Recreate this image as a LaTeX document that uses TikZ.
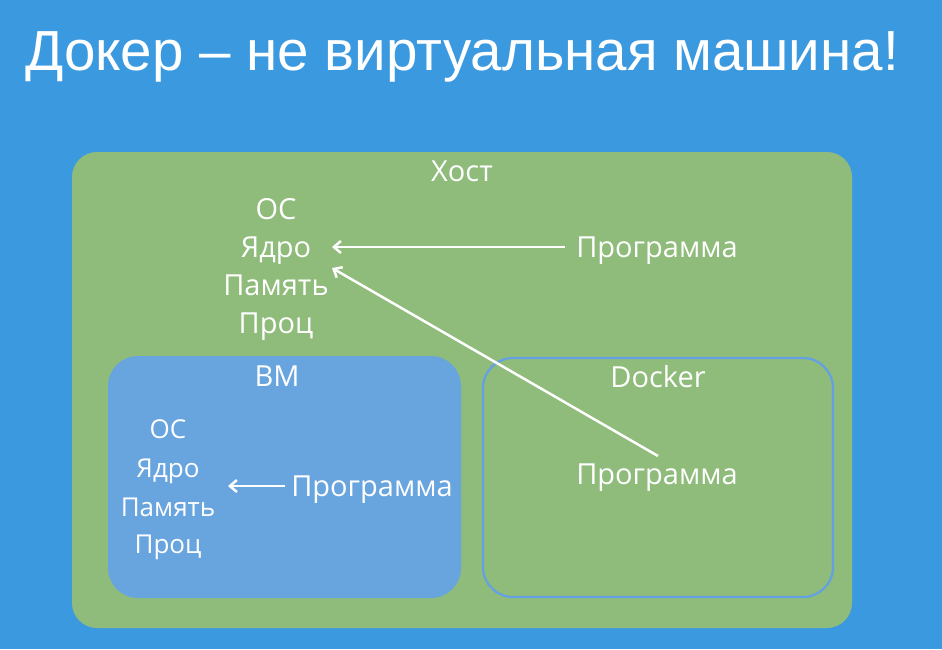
\documentclass[tikz,border=0pt]{standalone}
\usepackage{fontspec}
\setmainfont{Open Sans}
\newfontfamily\titlefont{Liberation Sans}
\usetikzlibrary{arrows.meta}
\definecolor{bgblue}{RGB}{59,153,224}
\definecolor{hostgreen}{RGB}{143,187,123}
\definecolor{vmblue}{RGB}{104,164,222}
\definecolor{dockline}{RGB}{100,160,228}
\tikzset{
  lbl/.style={text=white, font=\fontsize{29}{34}\selectfont, inner sep=0pt, anchor=base},
  slbl/.style={lbl, font=\fontsize{26}{31}\selectfont},
  arr/.style={white, line width=2.5pt, -{Straight Barb[length=7pt,width=12pt,line width=2.5pt]}},
}
\begin{document}
\begin{tikzpicture}[x=1pt,y=-1pt]
\fill[bgblue] (0,0) rectangle (942,649);
\useasboundingbox (0,0) rectangle (942,649);
\node[text=white, font=\titlefont\fontsize{56.5}{60}\selectfont, anchor=base west, inner sep=0pt] (title) at (25,70) {Докер – не виртуальная машина!};
% host
\fill[hostgreen, rounded corners=25pt] (72,152) rectangle (852,628);
\node[lbl] (host) at (462,181) {Хост};
\node[lbl] (hos) at (276,219) {ОС};
\node[lbl] (hker) at (276,257) {Ядро};
\node[lbl] (hmem) at (276,295) {Память};
\node[lbl] (hcpu) at (276,333) {Проц};
\node[lbl] (hprog) at (657,257) {Программа};
% vm
\fill[vmblue, rounded corners=30pt] (108,356) rectangle (461,598);
\node[lbl] (vm) at (277,386) {ВМ};
\node[slbl] (vos) at (168,438) {ОС};
\node[slbl] (vker) at (168,477) {Ядро};
\node[slbl] (vmem) at (168,516) {Память};
\node[slbl] (vcpu) at (168,553) {Проц};
\node[lbl] (vprog) at (372,496) {Программа};
% docker
\draw[dockline, line width=2.2pt, rounded corners=30pt] (483,358) rectangle (833,597);
\node[lbl] (dock) at (658,387) {Docker};
\node[lbl] (dprog) at (657,484) {Программа};
% arrows
\coordinate (hkerR) at (332,247);
\coordinate (hmemR) at (332,268);
\coordinate (vkerR) at (228,486);
\coordinate (hstart) at (565,247);
\coordinate (vstart) at (285,486);
\coordinate (dstart) at (658,456);
\draw[arr] (hstart) -- (hkerR);
\draw[arr] (dstart) -- (hmemR);
\draw[arr] (vstart) -- (vkerR);
\end{tikzpicture}
\end{document}
